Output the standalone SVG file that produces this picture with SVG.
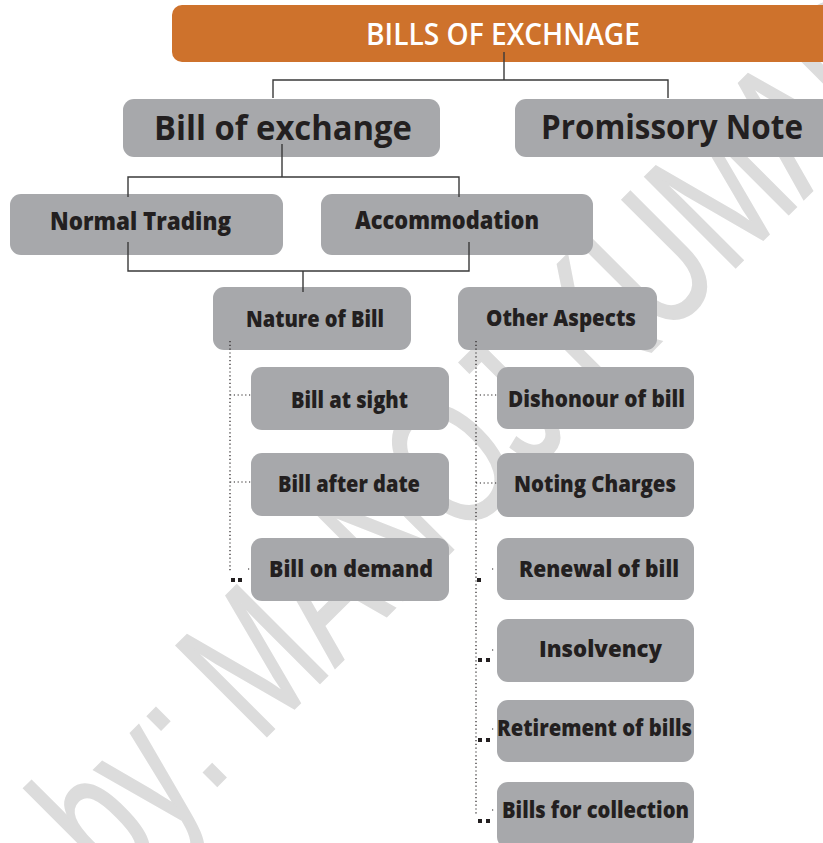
<svg xmlns="http://www.w3.org/2000/svg" width="823" height="843" viewBox="0 0 823 843">
<style>
.box{fill:#A7A8AB}
.title{fill:#CE722C}
.t{font-family:"Open Sans","DejaVu Sans",sans-serif;font-weight:800;fill:#231F20}
.tt{font-family:"Open Sans","Liberation Sans",sans-serif;font-weight:600;fill:#FFFFFF;font-size:30px}
.l1{font-size:34px;font-weight:700}
.l2{font-size:25px}
.l3{font-size:23.5px}
.ln{fill:none;stroke:#3A3A3A;stroke-width:1.4}
.dot{fill:none;stroke:#231F20;stroke-width:1.2;stroke-dasharray:1.2 2.6}
.sq{fill:#231F20}
.wm{font-family:"Liberation Sans",Arial,sans-serif;font-size:186px;fill:#DCDCDC;stroke:#DCDCDC;stroke-width:2}
</style>
<rect width="823" height="843" fill="#FFFFFF"/>
<g id="watermark">
<text class="wm" transform="translate(270,733) rotate(-45) scale(0.69,1)" x="-322" y="0">by: MANOJ KUMAR</text>
</g>
<g id="n-bills-of-exchange">
<rect class="title" x="172" y="5" width="680" height="57" rx="10"/>
<text class="tt" x="366" y="45" textLength="274" lengthAdjust="spacingAndGlyphs">BILLS OF EXCHNAGE</text>
</g>
<g id="n-bill-of-exchange">
<rect class="box" x="123" y="99" width="317" height="58" rx="11"/>
<text class="t l1" x="154" y="140" textLength="258" lengthAdjust="spacingAndGlyphs">Bill of exchange</text>
</g>
<g id="n-promissory-note">
<rect class="box" x="515" y="99" width="340" height="58" rx="11"/>
<text class="t l1" x="541" y="139" textLength="262" lengthAdjust="spacingAndGlyphs">Promissory Note</text>
</g>
<g id="n-normal-trading">
<rect class="box" x="10" y="194" width="273" height="61" rx="11"/>
<text class="t l2" x="50" y="230" textLength="181" lengthAdjust="spacingAndGlyphs">Normal Trading</text>
</g>
<g id="n-accommodation">
<rect class="box" x="321" y="194" width="272" height="61" rx="11"/>
<text class="t l2" x="355" y="229" textLength="184" lengthAdjust="spacingAndGlyphs">Accommodation</text>
</g>
<g id="n-nature-of-bill">
<rect class="box" x="213" y="287" width="198" height="63" rx="11"/>
<text class="t l3" x="246" y="327" textLength="138" lengthAdjust="spacingAndGlyphs">Nature of Bill</text>
</g>
<g id="n-other-aspects">
<rect class="box" x="458" y="287" width="199" height="63" rx="11"/>
<text class="t l3" x="486" y="326" textLength="150" lengthAdjust="spacingAndGlyphs">Other Aspects</text>
</g>
<g id="n-bill-at-sight">
<rect class="box" x="251" y="367" width="198" height="63" rx="11"/>
<text class="t l3" x="291" y="408" textLength="117" lengthAdjust="spacingAndGlyphs">Bill at sight</text>
</g>
<g id="n-bill-after-date">
<rect class="box" x="251" y="453" width="198" height="63" rx="11"/>
<text class="t l3" x="278" y="492" textLength="142" lengthAdjust="spacingAndGlyphs">Bill after date</text>
</g>
<g id="n-bill-on-demand">
<rect class="box" x="251" y="538" width="198" height="63" rx="11"/>
<text class="t l3" x="269" y="577" textLength="164" lengthAdjust="spacingAndGlyphs">Bill on demand</text>
</g>
<g id="n-dishonour">
<rect class="box" x="497" y="367" width="197" height="62" rx="11"/>
<text class="t l3" x="508" y="407" textLength="177" lengthAdjust="spacingAndGlyphs">Dishonour of bill</text>
</g>
<g id="n-noting-charges">
<rect class="box" x="497" y="453" width="197" height="64" rx="11"/>
<text class="t l3" x="514" y="492" textLength="162" lengthAdjust="spacingAndGlyphs">Noting Charges</text>
</g>
<g id="n-renewal">
<rect class="box" x="497" y="538" width="197" height="62" rx="11"/>
<text class="t l3" x="519" y="577" textLength="160" lengthAdjust="spacingAndGlyphs">Renewal of bill</text>
</g>
<g id="n-insolvency">
<rect class="box" x="497" y="619" width="197" height="63" rx="11"/>
<text class="t l3" x="539" y="657" textLength="123" lengthAdjust="spacingAndGlyphs">Insolvency</text>
</g>
<g id="n-retirement">
<rect class="box" x="497" y="700" width="197" height="62" rx="11"/>
<text class="t l3" x="497" y="736" textLength="195" lengthAdjust="spacingAndGlyphs">Retirement of bills</text>
</g>
<g id="n-bills-for-collection">
<rect class="box" x="497" y="782" width="197" height="66" rx="11"/>
<text class="t l3" x="502" y="818" textLength="187" lengthAdjust="spacingAndGlyphs">Bills for collection</text>
</g>
<g id="connectors">
<path class="ln" d="M504 52V80M273 98V80H668V98"/>
<path class="ln" d="M282 144V177M128 197V177H459V197"/>
<path class="ln" d="M128 242V271H469V242M303 271V292"/>
<path class="dot" d="M230 341V571M230 395H251M230 482H251"/>
<path class="dot" d="M476 341V815M476 395H497M476 483H497"/>
<g class="dot">
<path d="M248 569H251M492 569H495M492 650H495M492 729H495M492 810H495"/>
</g>
<rect class="sq" x="231" y="578" width="4" height="4"/>
<rect class="sq" x="238" y="578" width="4" height="4"/>
<rect class="sq" x="477" y="578" width="4" height="4"/>
<rect class="sq" x="478" y="658" width="4" height="4"/>
<rect class="sq" x="486" y="658" width="4" height="4"/>
<rect class="sq" x="478" y="738" width="4" height="4"/>
<rect class="sq" x="486" y="738" width="4" height="4"/>
<rect class="sq" x="478" y="819" width="4" height="4"/>
<rect class="sq" x="486" y="819" width="4" height="4"/>
</g>
</svg>
